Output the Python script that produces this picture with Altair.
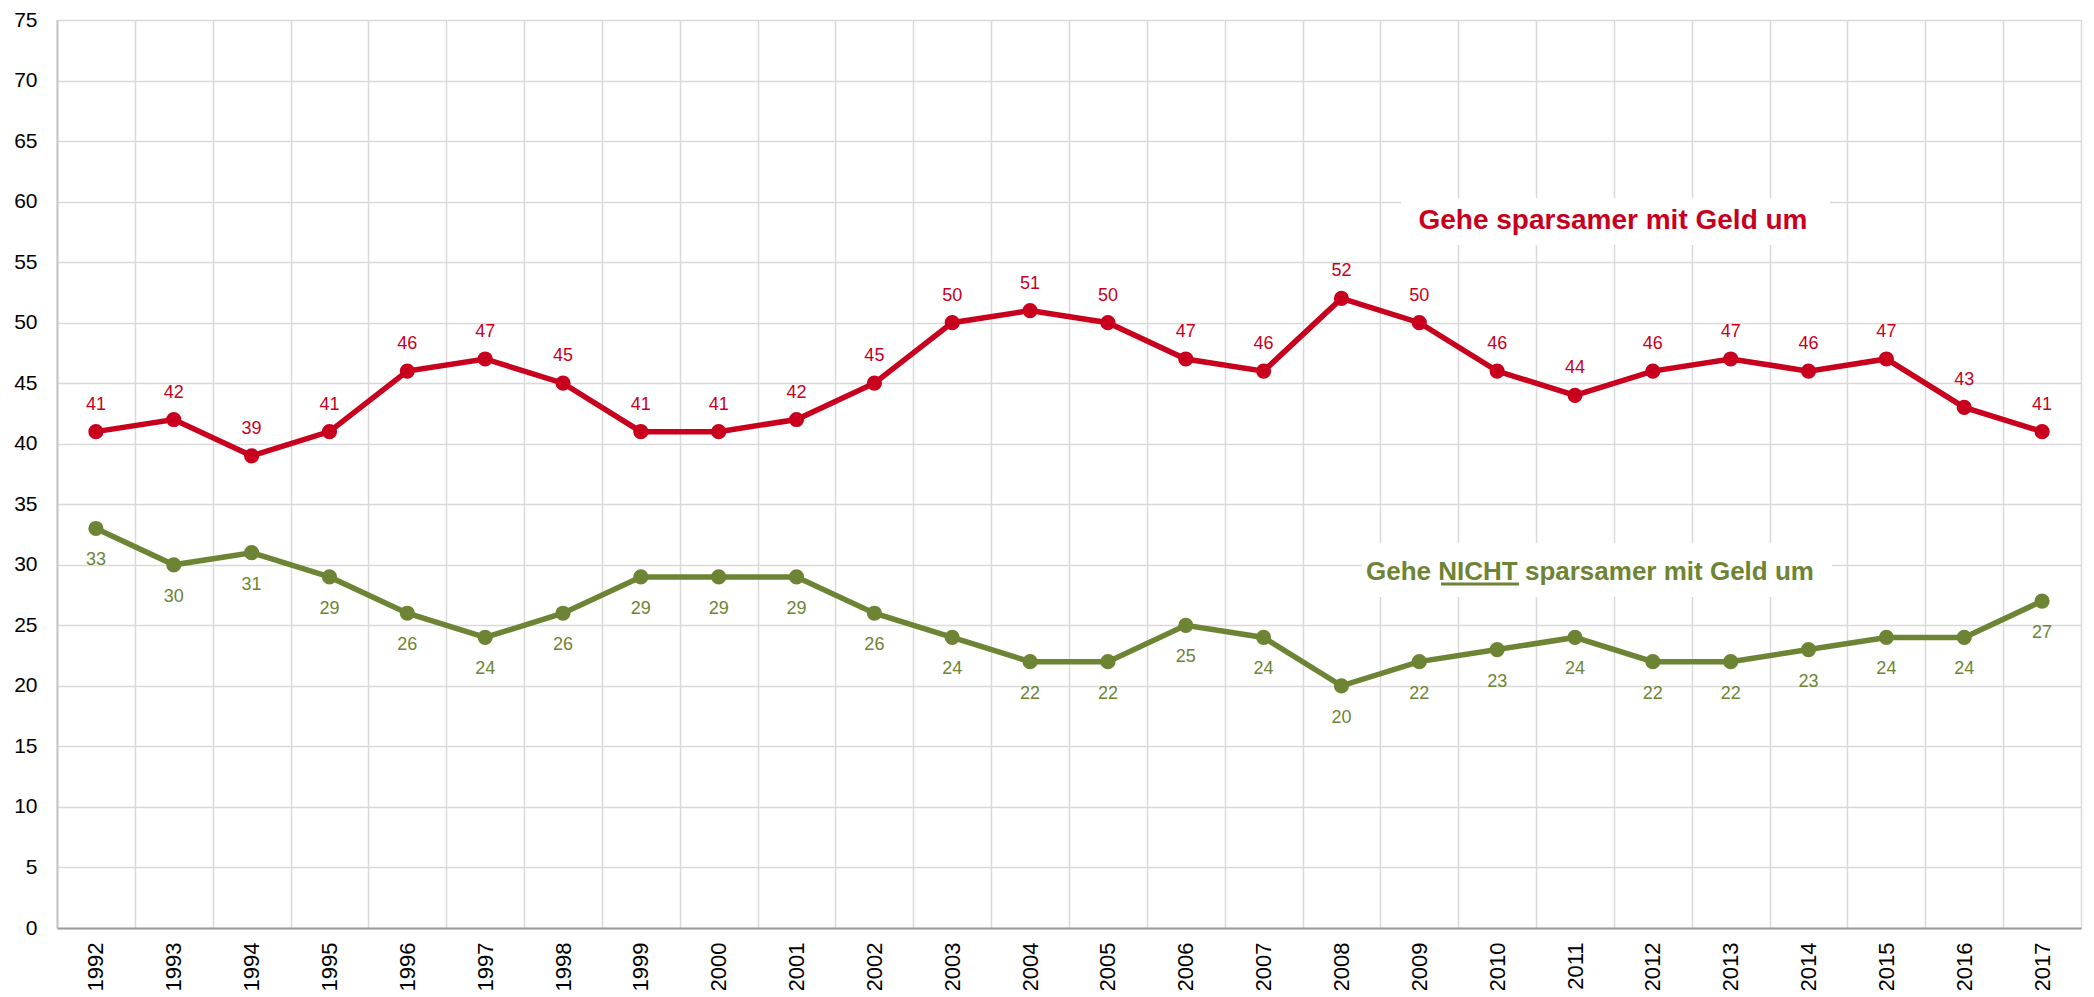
import altair as alt
import pandas as pd

years = [str(y) for y in range(1992, 2018)]
sparsamer = [41, 42, 39, 41, 46, 47, 45, 41, 41, 42, 45, 50, 51, 50, 47, 46, 52, 50, 46, 44, 46, 47, 46, 47, 43, 41]
nicht_sparsamer = [33, 30, 31, 29, 26, 24, 26, 29, 29, 29, 26, 24, 22, 22, 25, 24, 20, 22, 23, 24, 22, 22, 23, 24, 24, 27]
series_names = ["Gehe sparsamer mit Geld um", "Gehe NICHT sparsamer mit Geld um"]
y_ticks = list(range(0, 80, 5))

RED = "#C8001E"
GREEN = "#6D8434"
FONT = "Liberation Sans"

df = pd.DataFrame({
    "Jahr": years * 2,
    "Wert": sparsamer + nicht_sparsamer,
    "Serie": [series_names[0]] * len(years) + [series_names[1]] * len(years),
})

x_enc = alt.X("Jahr:O", bandPosition=0.5,
              scale=alt.Scale(type="band", paddingInner=0, paddingOuter=0),
              axis=alt.Axis(title=None, tickBand="extent", grid=True, ticks=False,
                            labelAngle=270, labelFontSize=22, labelPadding=14,
                            labelColor="#000000", labelFont=FONT,
                            domainColor="#9a9a9a", domainWidth=2,
                            gridColor="#d9d9d9", gridWidth=1.5))
y_enc = alt.Y("Wert:Q",
              scale=alt.Scale(domain=[0, 75], nice=False, zero=True),
              axis=alt.Axis(title=None, values=y_ticks, grid=True, ticks=False,
                            labelFontSize=21, labelPadding=20, labelColor="#000000",
                            labelFont=FONT, domainColor="#c4c4c4", domainWidth=2,
                            gridColor="#d9d9d9", gridWidth=1.5))
color_enc = alt.Color("Serie:N", scale=alt.Scale(domain=series_names, range=[RED, GREEN]), legend=None)

base = alt.Chart(df)

lines = base.mark_line(strokeWidth=5.5).encode(x=x_enc, y=y_enc, color=color_enc)
points = base.mark_circle(size=230, opacity=1).encode(x=x_enc, y=y_enc, color=color_enc)

labels_red = base.transform_filter(alt.datum.Serie == series_names[0]).mark_text(
    dy=-22, baseline="alphabetic", fontSize=18, font=FONT, color=RED
).encode(x=x_enc, y=y_enc, text="Wert:Q")
labels_green = base.transform_filter(alt.datum.Serie == series_names[1]).mark_text(
    dy=37, baseline="alphabetic", fontSize=18, font=FONT, color=GREEN
).encode(x=x_enc, y=y_enc, text="Wert:Q")

# Annotation boxes and series labels
box_red = alt.Chart(pd.DataFrame({"a": [0]})).mark_rect(color="white").encode(
    x=alt.value(1344), x2=alt.value(1773), y=alt.value(178), y2=alt.value(225))
box_green = alt.Chart(pd.DataFrame({"a": [0]})).mark_rect(color="white").encode(
    x=alt.value(1305), x2=alt.value(1775), y=alt.value(523), y2=alt.value(577))
text_red = alt.Chart(pd.DataFrame({"t": [series_names[0]]})).mark_text(
    fontSize=28, fontWeight="bold", font=FONT, color=RED, align="center", baseline="alphabetic"
).encode(x=alt.value(1556), y=alt.value(209), text="t:N")
text_green = alt.Chart(pd.DataFrame({"t": [series_names[1]]})).mark_text(
    fontSize=26, fontWeight="bold", font=FONT, color=GREEN, align="center", baseline="alphabetic"
).encode(x=alt.value(1533), y=alt.value(560), text="t:N")
underline = alt.Chart(pd.DataFrame({"a": [0]})).mark_rule(color=GREEN, strokeWidth=3).encode(
    x=alt.value(1384), x2=alt.value(1462), y=alt.value(564))

chart = alt.layer(
    box_red, box_green, lines, points, labels_red, labels_green, text_red, text_green, underline
).properties(
    width=2024, height=908,
    autosize=alt.AutoSizeParams(type="none"),
    padding={"left": 49, "top": 12, "right": 5, "bottom": 62},
).configure_view(strokeWidth=0).configure(background="white")

chart.save("out.html", embed_options={"renderer": "svg", "actions": False})
